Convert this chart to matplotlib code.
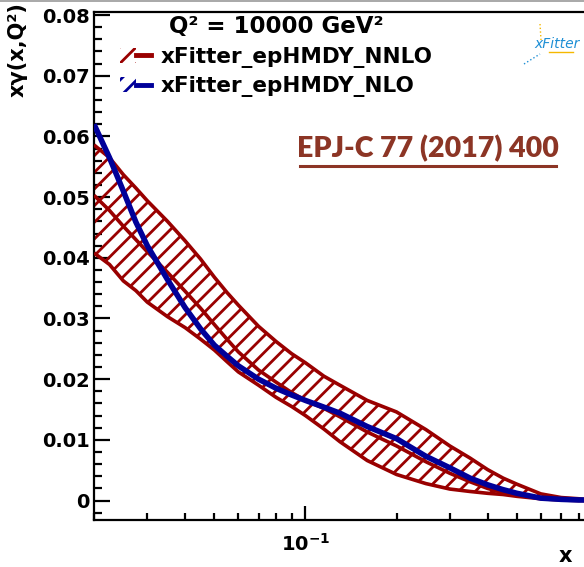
import matplotlib
matplotlib.use('Agg')
import matplotlib.pyplot as plt
from matplotlib import font_manager
from matplotlib.patches import Patch
from matplotlib.lines import Line2D
from matplotlib.legend_handler import HandlerTuple
from matplotlib.ticker import FixedLocator, NullFormatter, LogLocator

# ---------------- data ----------------
x = [0.02, 0.0225, 0.025, 0.0275, 0.03, 0.035, 0.04, 0.045, 0.05, 0.055, 0.06, 0.07, 0.08,
     0.09, 0.1, 0.115, 0.13, 0.16, 0.2, 0.25, 0.3, 0.35, 0.4, 0.45, 0.5, 0.6, 0.7, 0.8, 0.833]
nnlo_up = [0.0586, 0.0565, 0.0537, 0.0515, 0.0494, 0.0460, 0.0428, 0.0398, 0.0368, 0.0343,
           0.0322, 0.0287, 0.0262, 0.0242, 0.0227, 0.0205, 0.0190, 0.0165, 0.0146, 0.0117,
           0.0090, 0.0070, 0.0051, 0.0037, 0.0027, 0.0011, 0.0005, 0.0003, 0.0002]
nnlo_lo = [0.0408, 0.0389, 0.0362, 0.0346, 0.0327, 0.0303, 0.0285, 0.0266, 0.0248, 0.0229,
           0.0212, 0.0190, 0.0170, 0.0155, 0.0140, 0.0118, 0.0097, 0.0066, 0.0043, 0.0028,
           0.0019, 0.0015, 0.0012, 0.0010, 0.0007, 0.0003, 0.0001, 0.0000, 0.0000]
nnlo_c = [0.0503, 0.0478, 0.0452, 0.0430, 0.0410, 0.0376, 0.0345, 0.0317, 0.0290, 0.0266,
          0.0245, 0.0215, 0.0195, 0.0178, 0.0165, 0.0152, 0.0138, 0.0113, 0.0090, 0.0064,
          0.0045, 0.0031, 0.0020, 0.0013, 0.0009, 0.0004, 0.0002, 0.0001, 0.0001]
nlo = [0.0620, 0.0565, 0.0510, 0.0459, 0.0420, 0.0364, 0.0318, 0.0283, 0.0256, 0.0238,
       0.0222, 0.0200, 0.0185, 0.0174, 0.0165, 0.0154, 0.0144, 0.0122, 0.0102, 0.0073,
       0.0054, 0.0037, 0.0026, 0.0018, 0.0012, 0.0004, 0.0002, 0.0001, 0.0001]

labels = ['xFitter_epHMDY_NNLO', 'xFitter_epHMDY_NLO']
legend_title = 'Q² = 10000 GeV²'
y_ticks = [0.0, 0.01, 0.02, 0.03, 0.04, 0.05, 0.06, 0.07, 0.08]
y_ticklabels = ['0', '0.01', '0.02', '0.03', '0.04', '0.05', '0.06', '0.07', '0.08']
x_ticks = [0.1]
x_ticklabels = [r'$\mathbf{10^{-1}}$']
ylabel = 'xγ(x,Q²)'
xlabel = 'x'
ref_text = 'EPJ-C 77 (2017) 400'
logo_text = 'xFitter'

RED = '#990000'
BLUE = '#000099'
EPJ = '#8C3525'

plt.rcParams['hatch.linewidth'] = 2.0
plt.rcParams['mathtext.fontset'] = 'dejavusans'
plt.rcParams['font.family'] = ['DejaVu Sans']

W, H = 584, 567
fig = plt.figure(figsize=(W / 100, H / 100), dpi=100)
left, right, bottom, top = 94, 584, 520, 12
ax = fig.add_axes([left / W, 1 - bottom / H, (right - left) / W, (bottom - top) / H])

ax.set_xscale('log')
ax.set_xlim(0.02, 0.833)
ax.set_ylim(-0.0032, 0.0805)

ax.fill_between(x, nnlo_lo, nnlo_up, facecolor='none', edgecolor=RED, hatch='//',
                linewidth=0, zorder=2)
for band_line in (nnlo_up, nnlo_lo, nnlo_c):
    ax.plot(x, band_line, color=RED, lw=2.6, zorder=3, solid_capstyle='butt',
            solid_joinstyle='round')
ax.plot(x, nlo, color=BLUE, lw=4.0, zorder=4, solid_capstyle='butt', solid_joinstyle='round')

# axes styling
for s in ['left', 'bottom', 'top']:
    ax.spines[s].set_linewidth(1.6)
ax.spines['right'].set_visible(False)

ax.yaxis.set_major_locator(FixedLocator(y_ticks))
ax.set_yticklabels(y_ticklabels)
ax.yaxis.set_minor_locator(FixedLocator([i * 0.002 for i in range(-1, 41)]))
ax.set_xticks(x_ticks)
ax.set_xticklabels(x_ticklabels)
ax.xaxis.set_minor_locator(LogLocator(base=10, subs=[2, 3, 4, 5, 6, 7, 8, 9], numticks=20))
ax.xaxis.set_minor_formatter(NullFormatter())

ax.tick_params(axis='y', which='major', direction='in', length=11.5, width=1.6,
               labelsize=14, pad=3)
ax.tick_params(axis='y', which='minor', direction='in', length=5.8, width=1.6)
ax.tick_params(axis='x', which='major', direction='in', length=10, width=1.6,
               labelsize=14, pad=9)
ax.tick_params(axis='x', which='minor', direction='in', length=5, width=1.6)
for lab in ax.get_yticklabels():
    lab.set_fontweight('bold')

# labels
fig.text(18 / W, 1 - 2 / H, ylabel, rotation=90, ha='center', va='top',
         fontsize=15, fontweight='bold')
fig.text(565 / W, 1 - 556 / H, xlabel, ha='center', va='center',
         fontsize=15, fontweight='bold')

# legend
handles = [
    (Patch(facecolor='none', edgecolor=RED, hatch='//', linewidth=0),
     Line2D([], [], color=RED, lw=3.5)),
    (Patch(facecolor='none', edgecolor=BLUE, hatch='//', linewidth=0),
     Line2D([], [], color=BLUE, lw=3.5)),
]
leg = ax.legend(handles, labels, handler_map={tuple: HandlerTuple(ndivide=None)},
                loc='upper left', bbox_to_anchor=(120 / W, 1 - 15 / H),
                bbox_transform=fig.transFigure, frameon=False, numpoints=1,
                title=legend_title,
                title_fontproperties={'weight': 'bold', 'size': 16.5},
                prop={'weight': 'bold', 'size': 15.5},
                handlelength=1.45, handletextpad=0.42, labelspacing=0.4,
                borderpad=0, borderaxespad=0)

# reference label
names = {f.name for f in font_manager.fontManager.ttflist}
epj_font = 'Liberation Sans Narrow' if 'Liberation Sans Narrow' in names else 'Lato'
fig.text(428 / W, 1 - 157 / H, ref_text, ha='center', va='baseline', color=EPJ,
         fontsize=24 if epj_font != 'Lato' else 20.5, fontweight='heavy', family=epj_font)
fig.add_artist(Line2D([300 / W, 556 / W], [1 - 166 / H] * 2, transform=fig.transFigure,
                      color=EPJ, lw=2.2))

# logo
fig.text(557 / W, 1 - 44 / H, logo_text, ha='center', va='center', color='#1E8FD5',
         fontsize=10, style='italic')
fig.add_artist(Line2D([549 / W, 573 / W], [1 - 52 / H] * 2, transform=fig.transFigure,
                      color='#F5B800', lw=1.0))
fig.add_artist(Line2D([540 / W, 541 / W], [1 - 24 / H, 1 - 40 / H], transform=fig.transFigure,
                      color='#F5B800', lw=1.0, ls=':'))
fig.add_artist(Line2D([524 / W, 540 / W], [1 - 64 / H, 1 - 54 / H], transform=fig.transFigure,
                      color='#1E8FD5', lw=1.0, ls=':'))

# top grey line
fig.add_artist(Line2D([0, 1], [1 - 1 / H] * 2, transform=fig.transFigure,
                      color='#999999', lw=1.2))

fig.savefig('out.png', dpi=100)
